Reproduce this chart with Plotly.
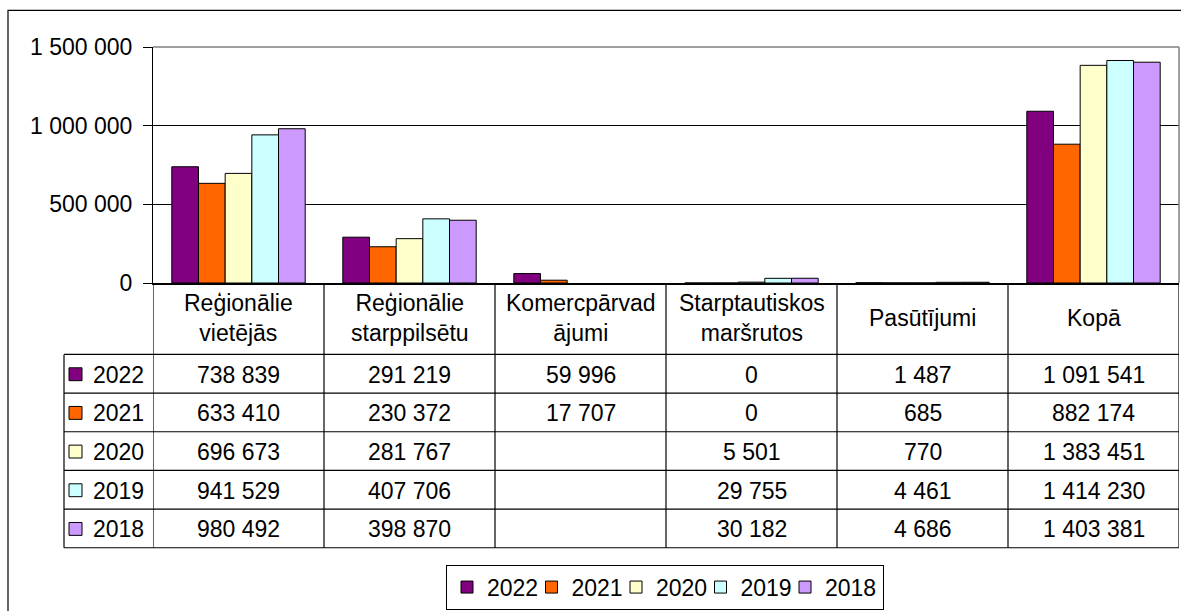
import plotly.graph_objects as go

# ---------------- data ----------------
categories = ["Reģionālie<br>vietējās", "Reģionālie<br>starppilsētu", "Komercpārvad<br>ājumi",
              "Starptautiskos<br>maršrutos", "Pasūtījumi", "Kopā"]
years = ["2022", "2021", "2020", "2019", "2018"]
v2022 = [738839, 291219, 59996, 0, 1487, 1091541]
v2021 = [633410, 230372, 17707, 0, 685, 882174]
v2020 = [696673, 281767, None, 5501, 770, 1383451]
v2019 = [941529, 407706, None, 29755, 4461, 1414230]
v2018 = [980492, 398870, None, 30182, 4686, 1403381]
series = [v2022, v2021, v2020, v2019, v2018]
colors = ["#800080", "#FF6600", "#FFFFCC", "#CCFFFF", "#CC99FF"]
y_ticks = [0, 500000, 1000000, 1500000]

# ---------------- layout geometry ----------------
W, H = 1181, 611
L, R, T, B = 153, 2, 47, 326
PW, PH = W - L - R, H - T - B
FONT = "Liberation Sans, Arial, sans-serif"
FS = 23


def px(x):
    return (x - L) / PW


def py(y):
    return (T + PH - y) / PH


def fmt(v):
    return "" if v is None else f"{v:,}".replace(",", " ")


fig = go.Figure()
for k, (name, vals, col) in enumerate(zip(years, series, colors)):
    fig.add_trace(go.Bar(
        x=list(range(len(categories))), y=vals, name=name,
        marker=dict(color=col, line=dict(color="black", width=1)),
        legendwidth=53 if k == len(years) - 1 else 39.5,
    ))

shapes = []
annotations = []

# outer chart border
shapes.append(dict(type="rect", xref="paper", yref="paper", x0=px(8), x1=px(1195),
                   y0=py(10), y1=py(625), line=dict(color="black", width=1.2),
                   fillcolor="rgba(0,0,0,0)", layer="below"))
# plot-area border (top and right, gray)
shapes.append(dict(type="line", xref="paper", yref="paper", x0=0, x1=1, y0=1, y1=1,
                   line=dict(color="#808080", width=1.5)))
shapes.append(dict(type="line", xref="paper", yref="paper", x0=1, x1=1, y0=0, y1=1,
                   line=dict(color="#808080", width=1.5)))

# data table grid
header_bottom = 357
row_h = 39
n = len(categories)
table_bottom = header_bottom + row_h * len(years)
for i in range(n + 1):
    shapes.append(dict(type="line", xref="x", yref="paper", x0=i - 0.5, x1=i - 0.5,
                       y0=0, y1=py(table_bottom), line=dict(color="black", width=1.2)))
shapes.append(dict(type="line", xref="paper", yref="paper", x0=px(64), x1=px(64),
                   y0=py(header_bottom), y1=py(table_bottom), line=dict(color="black", width=1.2)))
for k in range(len(years) + 1):
    yy = header_bottom + k * row_h
    shapes.append(dict(type="line", xref="paper", yref="paper", x0=px(64), x1=1,
                       y0=py(yy), y1=py(yy), line=dict(color="black", width=1.2)))

# header texts
for i, c in enumerate(categories):
    annotations.append(dict(x=i, y=py(320), xref="x", yref="paper", text=c, showarrow=False,
                            font=dict(family=FONT, size=FS, color="black"),
                            xanchor="center", yanchor="middle"))
# row values + row legend keys
for k, (name, vals, col) in enumerate(zip(years, series, colors)):
    yc = header_bottom + k * row_h + row_h / 2
    for i, v in enumerate(vals):
        annotations.append(dict(x=i, y=py(yc + 1), xref="x", yref="paper", text=fmt(v),
                                showarrow=False, font=dict(family=FONT, size=FS, color="black"),
                                xanchor="center", yanchor="middle"))
    shapes.append(dict(type="rect", xref="paper", yref="paper", x0=px(69), x1=px(82),
                       y0=py(yc - 6), y1=py(yc + 7), fillcolor=col,
                       line=dict(color="black", width=1)))
    annotations.append(dict(x=px(91), y=py(yc + 1), xref="paper", yref="paper", text=name,
                            showarrow=False, font=dict(family=FONT, size=FS, color="black"),
                            xanchor="left", yanchor="middle"))

fig.update_layout(
    width=W, height=H,
    margin=dict(l=L, r=R, t=T, b=B, pad=0),
    paper_bgcolor="white", plot_bgcolor="white",
    font=dict(family=FONT, size=FS, color="black"),
    separators=", ",
    barmode="group", bargap=0.22, bargroupgap=0,
    xaxis=dict(range=[-0.5, n - 0.5], showticklabels=False, ticks="", showgrid=False,
               zeroline=False, showline=True, linecolor="black", linewidth=2.2, fixedrange=True),
    yaxis=dict(range=[0, 1500000], tickvals=y_ticks, tickformat=",d", showgrid=True,
               gridcolor="black", gridwidth=1, zeroline=False, showline=True, linecolor="black",
               linewidth=1.2, ticks="outside", ticklen=9, tickcolor="black",
               ticklabelstandoff=6, tickfont=dict(family=FONT, size=FS, color="black")),
    showlegend=True,
    legend=dict(orientation="h", x=px(446), y=py(569), xanchor="left", yanchor="top",
                bordercolor="black", borderwidth=1, bgcolor="white",
                font=dict(family=FONT, size=FS, color="black"),
                itemwidth=30, entrywidthmode="pixels", traceorder="normal"),
    shapes=shapes, annotations=annotations,
)

fig.write_html("out.html", config={"displayModeBar": False},
               post_script="document.body.style.margin='0';document.body.style.overflow='hidden';")
